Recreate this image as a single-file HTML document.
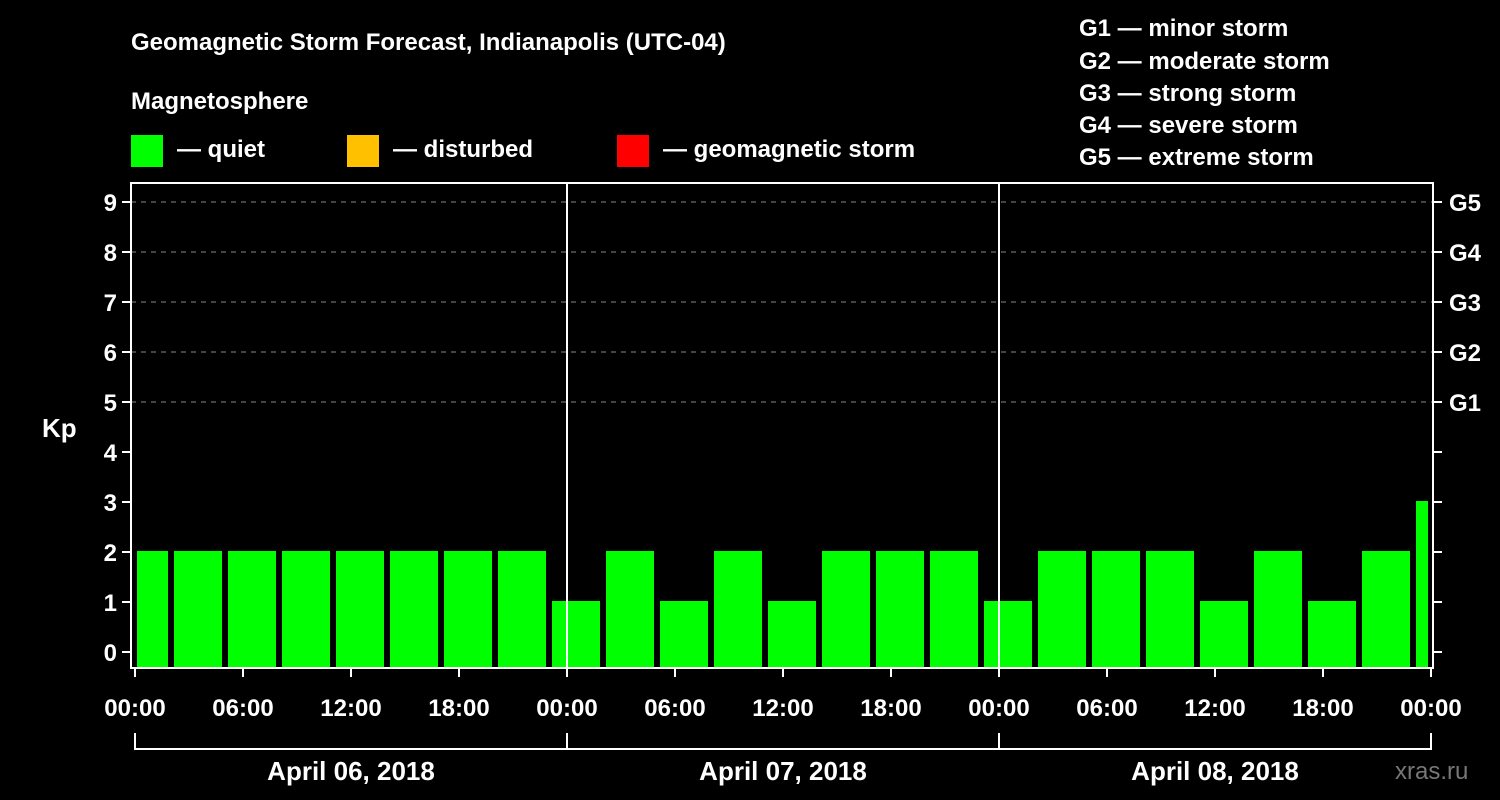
<!DOCTYPE html>
<html><head><meta charset="utf-8"><style>
body{margin:0;background:#000;}
svg{display:block;font-family:"Liberation Sans",Arial,sans-serif;font-weight:bold;}
</style></head><body>
<svg id="c" width="1500" height="800" viewBox="0 0 1500 800">
<rect width="1500" height="800" fill="#000"/>
<text x="131" y="50" fill="#fff" font-size="24">Geomagnetic Storm Forecast, Indianapolis (UTC-04)</text>
<text x="131" y="109" fill="#fff" font-size="24">Magnetosphere</text>
<g><rect x="131" y="135" width="32" height="32" fill="#00ff00"/><text x="177" y="157" fill="#fff" font-size="24">— quiet</text></g>
<g><rect x="347" y="135" width="32" height="32" fill="#ffc000"/><text x="393" y="157" fill="#fff" font-size="24">— disturbed</text></g>
<g><rect x="617" y="135" width="32" height="32" fill="#ff0000"/><text x="663" y="157" fill="#fff" font-size="24">— geomagnetic storm</text></g>
<g fill="#fff" font-size="24">
<text x="1079" y="36">G1 — minor storm</text>
<text x="1079" y="69">G2 — moderate storm</text>
<text x="1079" y="101">G3 — strong storm</text>
<text x="1079" y="133">G4 — severe storm</text>
<text x="1079" y="165">G5 — extreme storm</text>
</g>
<text x="42" y="437" fill="#fff" font-size="26">Kp</text>
<text x="1395" y="779" fill="#777" font-size="24" font-weight="normal">xras.ru</text>
<g id="g"></g>
</svg>
<script>
const kpValues=[2,2,2,2,2,2,2,2,1,2,1,2,1,2,2,2,1,2,2,2,1,2,1,2,3];
const dayLabels=["April 06, 2018","April 07, 2018","April 08, 2018"];
const hourLabels=["00:00","06:00","12:00","18:00"];
const yTicks=[0,1,2,3,4,5,6,7,8,9];
const gLabels=["G1","G2","G3","G4","G5"];
const ns="http://www.w3.org/2000/svg",g=document.getElementById('g');
const X0=135,PX_H=18,startHour=-1,L=131,R=1433,T=183,B=668;
const xs=h=>X0+h*PX_H, ys=k=>652-50*k;
function mk(t,a,p){const e=document.createElementNS(ns,t);for(const k in a)e.setAttribute(k,a[k]);(p||g).appendChild(e);return e;}
// grid
yTicks.forEach(k=>{
 if(k>=5){const l=mk('line',{x1:L,x2:R,y1:ys(k),y2:ys(k),stroke:'#888','stroke-dasharray':'5,5','stroke-width':1});
 
 }
 const t=mk('line',{x1:L-9,x2:L,y1:ys(k),y2:ys(k),stroke:'#fff','stroke-width':2});
 
 
 const t2=mk('line',{x1:R,x2:R+9,y1:ys(k),y2:ys(k),stroke:'#fff','stroke-width':2});
 
 
 const tx=mk('text',{x:L-14,y:ys(k)+9,fill:'#fff','font-size':24,'text-anchor':'end'});tx.textContent=k;
 
 
});
gLabels.forEach((s,i)=>{const tx=mk('text',{x:1449,y:ys(5+i)+9,fill:'#fff','font-size':24});tx.textContent=s;
 
 });
// bars
kpValues.forEach((v,i)=>{
 const s=xs(startHour+3*i),e=xs(startHour+3*i+3);
 const x1=Math.max(s+3,X0+2),x2=Math.min(e-3,R-5);
 const col=v>=5?'#ff0000':v>=4?'#ffc000':'#00ff00';
 const r=mk('rect',{x:x1,y:ys(v)-1,width:x2-x1,height:B-ys(v)+1,fill:col});
 
 
});
// day separators
[1,2].forEach(d=>{const l=mk('line',{x1:xs(24*d),x2:xs(24*d),y1:T,y2:B,stroke:'#fff','stroke-width':2});
 
 });
// frame
const f=mk('rect',{x:L,y:T,width:R-L,height:B-T,fill:'none',stroke:'#fff','stroke-width':2});


// x labels
for(let h=0;h<=72;h+=6){
 const x=xs(h);
 const t=mk('line',{x1:x,x2:x,y1:B,y2:B+9,stroke:'#fff','stroke-width':2});
 
 
 const tx=mk('text',{x:x,y:716,fill:'#fff','font-size':24,'text-anchor':'middle'});tx.textContent=hourLabels[(h/6)%4];
 
 
}
const br=mk('line',{x1:xs(0),x2:xs(72),y1:749,y2:749,stroke:'#fff','stroke-width':2});


[0,24,48,72].forEach(h=>{const l=mk('line',{x1:xs(h),x2:xs(h),y1:733,y2:750,stroke:'#fff','stroke-width':2});
 
 });
dayLabels.forEach((s,i)=>{const tx=mk('text',{x:xs(24*i+12),y:780,fill:'#fff','font-size':26,'text-anchor':'middle'});tx.textContent=s;
 
 });
</script>
</body></html>
